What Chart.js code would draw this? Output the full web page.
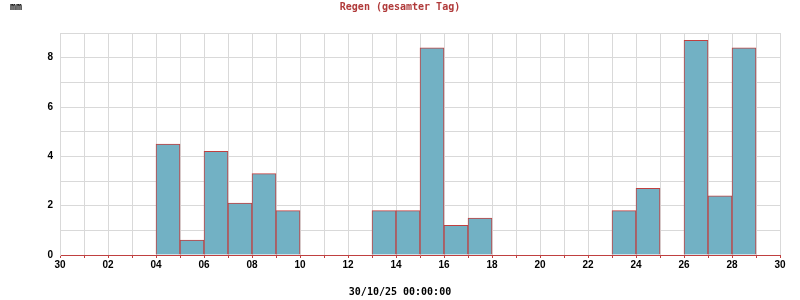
<!DOCTYPE html>
<html>
<head>
<meta charset="utf-8">
<script src="https://cdn.jsdelivr.net/npm/chart.js@4"></script>
<style>
  html, body { margin: 0; padding: 0; background: #ffffff; }
  #wrap { width: 800px; height: 300px; position: relative; }
</style>
</head>
<body>
<div id="wrap"><canvas id="c" width="800" height="300"></canvas></div>
<script>
// Tick labels at every second day boundary (30 Sep .. 30 Oct)
const xTickLabels = ["30","02","04","06","08","10","12","14","16","18","20","22","24","26","28","30"];
// Days of each bar (bar i spans boundary i..i+1)
const days = ["30","01","02","03","04","05","06","07","08","09","10","11","12","13","14","15","16","17","18","19","20","21","22","23","24","25","26","27","28","29"];
// Daily rain in mm
const rain = [0,0,0,0,4.5,0.6,4.2,2.1,3.3,1.8,0,0,0,1.8,1.8,8.4,1.2,1.5,0,0,0,0,0,1.8,2.7,0,8.7,2.4,8.4,0];

const titleText = "Regen (gesamter Tag)";
const unitText = "mm";
const dateText = "30/10/25 00:00:00";

const textPlugin = {
  id: 'texts',
  afterDraw(chart) {
    const ctx = chart.ctx;
    ctx.save();
    ctx.textBaseline = 'middle';
    ctx.font = 'bold 10px "DejaVu Sans Mono"';
    ctx.fillStyle = '#000000';
    ctx.textAlign = 'left';
    ctx.fillText(unitText, 10, 7);
    ctx.fillStyle = '#b03a3a';
    ctx.textAlign = 'center';
    ctx.fillText(titleText, 400, 7);
    ctx.fillStyle = '#000000';
    ctx.fillText(dateText, 400, 292);
    ctx.restore();
  }
};

new Chart(document.getElementById('c'), {
  type: 'bar',
  data: {
    datasets: [{
      label: 'Regen',
      data: rain.map((v, i) => ({ x: i + 0.5, y: v })),
      backgroundColor: '#72b1c4',
      borderColor: '#c04040',
      borderWidth: 1,
      barPercentage: 1,
      categoryPercentage: 1
    }]
  },
  options: {
    responsive: false,
    animation: false,
    layout: { padding: { top: 33, right: 20, left: 0, bottom: 0 } },
    plugins: {
      legend: { display: false },
      tooltip: { enabled: false }
    },
    scales: {
      x: {
        type: 'linear',
        min: 0,
        max: 30,
        offset: false,
        afterFit(scale) { scale.height = 45; },
        afterBuildTicks(scale) {
          scale.ticks = days.map((d, i) => ({ value: i })).concat([{ value: days.length }]);
        },
        ticks: {
          autoSkip: false,
          maxRotation: 0,
          padding: 1,
          color: '#000000',
          font: { family: '"Liberation Sans"', size: 10, weight: 'bold' },
          callback: (v) => (v % 2 === 0 ? xTickLabels[v / 2] : '')
        },
        grid: {
          offset: false,
          color: '#d9d9d9',
          tickColor: '#c04040',
          tickLength: 3,
          drawTicks: true
        },
        border: { color: '#c04040', width: 1 }
      },
      y: {
        min: 0,
        max: 9,
        afterFit(scale) { scale.width = 60; },
        ticks: {
          stepSize: 1,
          padding: 7,
          color: '#000000',
          font: { family: '"Liberation Sans"', size: 10, weight: 'bold' },
          callback: (v) => (v % 2 === 0 ? String(v) : '')
        },
        grid: { color: '#d9d9d9', drawTicks: false },
        border: { color: '#d9d9d9', width: 1 }
      }
    }
  },
  plugins: [textPlugin]
});
</script>
</body>
</html>
